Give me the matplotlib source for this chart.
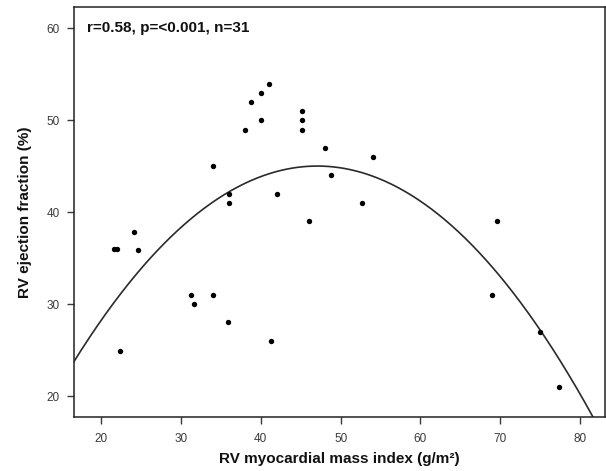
import numpy as np
import matplotlib
matplotlib.use("Agg")
import matplotlib.pyplot as plt

plt.rcParams['font.family'] = ['Liberation Sans', 'DejaVu Sans']

# Data
rv_mass_index = [36.0, 36.0, 24.1, 21.6, 22.0, 24.6, 31.2, 31.7, 34.0, 35.9, 22.4,
                 41.05, 40.0, 38.8, 40.0, 38.0, 45.1, 45.1, 45.1, 48.0, 54.0, 34.0,
                 48.8, 42.0, 52.7, 46.0, 69.6, 69.0, 75.0, 77.4, 41.3]
rv_ef = [42.0, 41.0, 37.8, 36.0, 36.0, 35.9, 31.0, 30.0, 31.0, 28.0, 24.9,
         54.0, 53.0, 52.0, 50.0, 49.0, 51.0, 50.0, 49.0, 47.0, 46.0, 45.0,
         44.0, 42.0, 41.0, 39.0, 39.0, 31.0, 27.0, 21.0, 26.0]

x_ticks = [20, 30, 40, 50, 60, 70, 80]
y_ticks = [20, 30, 40, 50, 60]
annotation = "r=0.58, p=<0.001, n=31"
x_label = "RV myocardial mass index (g/m\u00b2)"
y_label = "RV ejection fraction (%)"

fig = plt.figure(figsize=(6.06, 4.71), dpi=100)
ax = fig.add_axes([0.1213, 0.1157, 0.877, 0.8688])

x = np.array(rv_mass_index)
y = np.array(rv_ef)
coef = np.polyfit(x, y, 2)
xs = np.linspace(16.55, 83.1, 400)
ys = np.polyval(coef, xs)

ax.plot(xs, ys, color='#2a2a2a', lw=1.2, zorder=2)
ax.scatter(x, y, s=15, color='black', zorder=3, linewidths=0)

ax.set_xlim(16.55, 83.1)
ax.set_ylim(17.77, 62.3)
ax.set_xticks(x_ticks)
ax.set_yticks(y_ticks)
ax.tick_params(axis='both', direction='out', length=5, width=1, colors='#3a3a3a',
               labelsize=8.5)
ax.tick_params(axis='x', pad=7)
ax.tick_params(axis='y', pad=5)
for sp in ax.spines.values():
    sp.set_linewidth(1.1)
    sp.set_color('#222222')

ax.set_xlabel(x_label, fontsize=11, fontweight='bold', labelpad=5, color='#111111')
ax.set_ylabel(y_label, fontsize=11, fontweight='bold', labelpad=10, color='#111111')
ax.text(0.026, 0.949, annotation, transform=ax.transAxes, fontsize=11,
        fontweight='bold', va='center', ha='left', color='#111111')

fig.savefig('out.png', dpi=100)
